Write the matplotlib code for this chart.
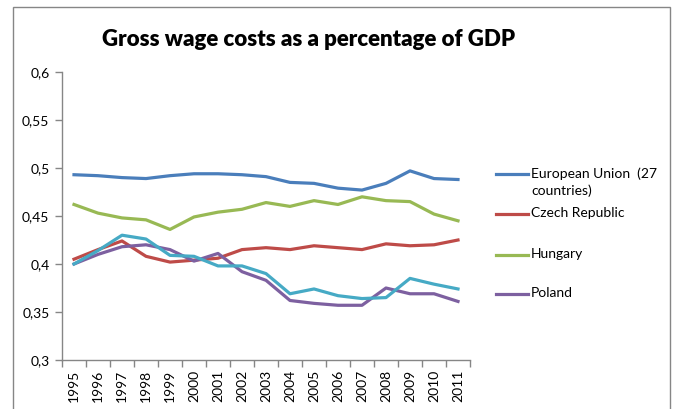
import matplotlib
matplotlib.use("Agg")
import matplotlib.pyplot as plt
from matplotlib.lines import Line2D
from matplotlib.patches import Rectangle

plt.rcParams['font.family'] = ['Lato', 'DejaVu Sans']

years = [str(y) for y in range(1995, 2012)]

eu = [0.493, 0.492, 0.490, 0.489, 0.492, 0.494, 0.494, 0.493, 0.491, 0.485,
      0.484, 0.479, 0.477, 0.484, 0.497, 0.489, 0.488]
czech = [0.405, 0.415, 0.424, 0.408, 0.402, 0.404, 0.406, 0.415, 0.417, 0.415,
         0.419, 0.417, 0.415, 0.421, 0.419, 0.420, 0.425]
hungary = [0.462, 0.453, 0.448, 0.446, 0.436, 0.449, 0.454, 0.457, 0.464, 0.460,
           0.466, 0.462, 0.470, 0.466, 0.465, 0.452, 0.445]
poland = [0.400, 0.410, 0.418, 0.420, 0.415, 0.403, 0.411, 0.392, 0.383, 0.362,
          0.359, 0.357, 0.357, 0.375, 0.369, 0.369, 0.361]
slovakia = [0.400, 0.414, 0.430, 0.426, 0.409, 0.408, 0.398, 0.398, 0.390, 0.369,
            0.374, 0.367, 0.364, 0.365, 0.385, 0.379, 0.374]

yticks = [0.3, 0.35, 0.4, 0.45, 0.5, 0.55, 0.6]
ytick_labels = ['0,3', '0,35', '0,4', '0,45', '0,5', '0,55', '0,6']

series = [
    ("European Union  (27\ncountries)", eu, '#4A7EBB'),
    ("Czech Republic", czech, '#BE4B48'),
    ("Hungary", hungary, '#98B954'),
    ("Poland", poland, '#7D60A0'),
]
extra_color = '#46AAC5'

W, H = 675, 409
fig = plt.figure(figsize=(W / 100, H / 100), dpi=100)

# outer chart border (runs off the bottom edge)
fig.add_artist(Rectangle((13 / W, -0.05), (670 - 13) / W, (H - 7) / H + 0.05,
                         transform=fig.transFigure, fill=False,
                         edgecolor='#868686', lw=1.0, clip_on=False))

ax = fig.add_axes([62 / W, (H - 360) / H, (470 - 62) / W, (360 - 72) / H])

x = list(range(len(years)))
for label, vals, color in series:
    ax.plot(x, vals, color=color, lw=2.3, solid_joinstyle='round')
ax.plot(x, slovakia, color=extra_color, lw=2.3, solid_joinstyle='round')

ax.set_xlim(-0.5, len(years) - 0.5)
ax.set_ylim(0.3, 0.6)
ax.set_yticks(yticks)
ax.set_yticklabels(ytick_labels, fontsize=10)

# category ticks sit on the boundaries, labels in the middle
ax.set_xticks([i - 0.5 for i in range(len(years) + 1)])
ax.set_xticklabels([])
ax.set_xticks(x, minor=True)
ax.set_xticklabels(years, minor=True, rotation=90, fontsize=10)
ax.tick_params(axis='x', which='minor', length=0, pad=7)
ax.tick_params(axis='x', which='major', length=5, color='#868686', width=1)
ax.tick_params(axis='y', length=5, color='#868686', width=1, pad=4)

for s in ['top', 'right']:
    ax.spines[s].set_visible(False)
for s in ['left', 'bottom']:
    ax.spines[s].set_color('#868686')
    ax.spines[s].set_linewidth(1)

fig.text(309 / W, 1 - 40 / H, "Gross wage costs as a percentage of GDP",
         ha='center', va='center', fontsize=16, fontweight='heavy')

# legend, drawn by hand so the wrapped label keeps its line on the first row
leg_y = [174, 214, 255, 294]
for (label, vals, color), yy in zip(series, leg_y):
    fig.add_artist(Line2D([496 / W, 528 / W], [1 - yy / H, 1 - yy / H],
                          transform=fig.transFigure, color=color, lw=2.3))
    fig.text(531 / W, 1 - (yy - 7) / H, label, ha='left', va='top',
             fontsize=10, linespacing=1.45)

fig.savefig("out.png", dpi=100)
